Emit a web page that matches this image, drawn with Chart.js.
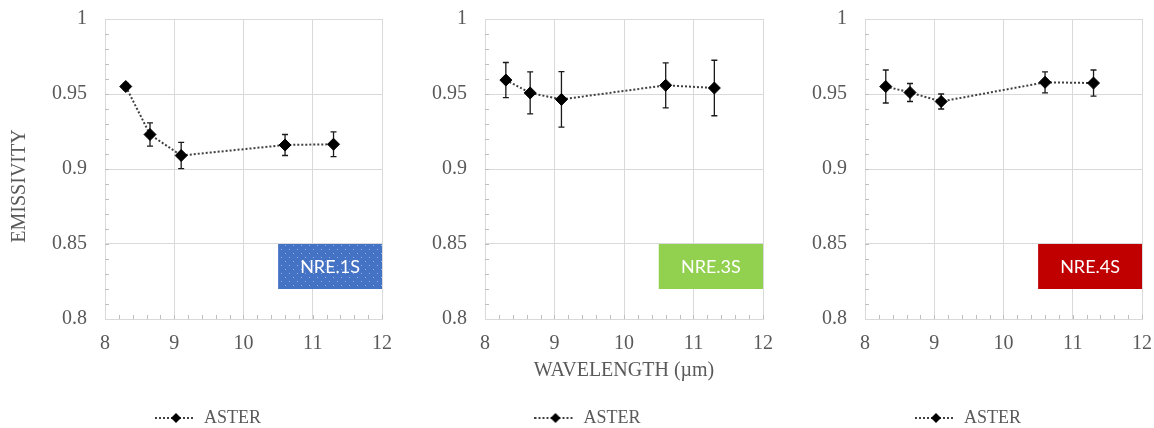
<!DOCTYPE html>
<html>
<head>
<meta charset="utf-8">
<script src="https://cdn.jsdelivr.net/npm/chart.js@4/dist/chart.umd.min.js"></script>
<style>
  body { margin: 0; background: #fff; width: 1154px; height: 428px; position: relative; overflow: hidden; }
  .panel { position: absolute; top: 0; height: 428px; }
</style>
</head>
<body>
<div class="panel" style="left:0;width:400px"><canvas id="c1"></canvas></div>
<div class="panel" style="left:390px;width:390px"><canvas id="c2"></canvas></div>
<div class="panel" style="left:770px;width:384px"><canvas id="c3"></canvas></div>
<script>
// ASTER TIR band centres (µm)
const wavelengths = [8.3, 8.65, 9.1, 10.6, 11.3];

const nre1S = [0.955, 0.923, 0.909, 0.916, 0.9165];
const nre1SErr = [0.002, 0.0077, 0.0087, 0.007, 0.0083];
const nre3S = [0.9593, 0.9507, 0.9464, 0.9558, 0.954];
const nre3SErr = [0.0117, 0.014, 0.0185, 0.015, 0.0185];
const nre4S = [0.955, 0.951, 0.945, 0.9578, 0.9573];
const nre4SErr = [0.011, 0.006, 0.005, 0.007, 0.0087];

const sampleNames = ['NRE.1S', 'NRE.3S', 'NRE.4S'];
const sampleColors = ['#4472c4', '#92d050', '#c00000'];
const labelBoxX = [10.5, 12];
const labelBoxY = [0.82, 0.85];

const serif = "'Liberation Serif', 'Times New Roman', serif";
const grey = '#595959';

function dotPattern(color){
  const c = document.createElement('canvas')
  c.width = 8; c.height = 8
  const g = c.getContext('2d')
  g.fillStyle = color
  g.fillRect(0, 0, 8, 8)
  g.fillStyle = 'rgba(255,255,255,0.45)'
  g.fillRect(1, 1, 1, 1)
  g.fillRect(5, 5, 1, 1)
  return g.createPattern(c, 'repeat')
}

function legendIcon(){
  const c = document.createElement('canvas')
  c.width = 40; c.height = 14
  const g = c.getContext('2d')
  g.strokeStyle = '#404040'
  g.lineWidth = 2
  g.setLineDash([2, 2])
  g.beginPath(); g.moveTo(0, 7); g.lineTo(40, 7); g.stroke()
  g.setLineDash([])
  g.fillStyle = '#000'
  g.beginPath(); g.moveTo(21, 2); g.lineTo(26, 7); g.lineTo(21, 12); g.lineTo(16, 7); g.closePath(); g.fill()
  return c
}

// error bars, minor ticks and the sample tag, all placed through the scales
const extras = {
  id: 'extras',
  afterLayout(chart, args, opts){
    // excel put the legend a bit right of centre
    chart.legend.left += opts.legendShift
    chart.legend.right += opts.legendShift
  },
  beforeDatasetsDraw(chart, args, opts){
    const {ctx, chartArea, scales: {x, y}} = chart
    ctx.save()
    // minor ticks
    ctx.strokeStyle = '#bfbfbf'
    ctx.lineWidth = 1
    ctx.beginPath()
    for(let v = 0.81; v < 1; v += 0.01){
      const py = Math.round(y.getPixelForValue(v)) + 0.5
      ctx.moveTo(chartArea.left, py); ctx.lineTo(chartArea.left + 4, py)
    }
    for(let v = 8.2; v < 12; v += 0.2){
      const px = Math.round(x.getPixelForValue(v)) + 0.5
      ctx.moveTo(px, chartArea.bottom); ctx.lineTo(px, chartArea.bottom - 4)
    }
    ctx.stroke()

    // sample tag
    const bx = x.getPixelForValue(labelBoxX[0]), bx2 = x.getPixelForValue(labelBoxX[1])
    const by = y.getPixelForValue(labelBoxY[1]), by2 = y.getPixelForValue(labelBoxY[0])
    ctx.fillStyle = opts.dotted ? dotPattern(opts.color) : opts.color
    ctx.fillRect(bx, by, bx2 - bx, by2 - by)
    ctx.fillStyle = '#fff'
    ctx.font = "18px Lato, 'Noto Sans', sans-serif"
    ctx.textAlign = 'center'
    ctx.textBaseline = 'middle'
    ctx.fillText(opts.name, (bx + bx2) / 2, (by + by2) / 2 + 1)

    // error bars
    ctx.strokeStyle = '#1a1a1a'
    ctx.lineWidth = 1.3
    ctx.beginPath()
    chart.data.datasets[0].data.forEach(p => {
      const px = x.getPixelForValue(p.x)
      const top = y.getPixelForValue(p.y + p.err), bot = y.getPixelForValue(p.y - p.err)
      ctx.moveTo(px, top); ctx.lineTo(px, bot)
      ctx.moveTo(px - 3, top); ctx.lineTo(px + 3, top)
      ctx.moveTo(px - 3, bot); ctx.lineTo(px + 3, bot)
    })
    ctx.stroke()
    ctx.restore()
  },
  afterDraw(chart, args, opts){
    if(!opts.yTitle) return
    const {ctx, chartArea} = chart
    ctx.save()
    ctx.translate(20, (chartArea.top + chartArea.bottom) / 2 + 17)
    ctx.rotate(-Math.PI / 2)
    ctx.font = '20px ' + serif
    ctx.fillStyle = grey
    ctx.textAlign = 'center'
    ctx.textBaseline = 'middle'
    ctx.fillText(opts.yTitle, 0, 0)
    ctx.restore()
  }
}

const icon = legendIcon()

function makeChart(id, values, errors, idx, yWidth, rightPad, legendShift, yTitle, xTitle){
  return new Chart(id, {
    type: 'line',
    data: {
      datasets: [{
        label: 'ASTER',
        data: wavelengths.map((w, i) => ({x: w, y: values[i], err: errors[i]})),
        borderColor: '#404040',
        borderWidth: 2,
        borderDash: [2, 2],
        pointStyle: 'rectRot',
        pointRadius: 6,
        pointBackgroundColor: '#000',
        pointBorderColor: '#000',
        pointBorderWidth: 1,
        tension: 0
      }]
    },
    options: {
      animation: false,
      responsive: true,
      maintainAspectRatio: false,
      layout: { padding: { top: 19, right: rightPad, left: 0, bottom: -9 } },
      plugins: {
        tooltip: { enabled: false },
        legend: {
          position: 'bottom',
          labels: {
            usePointStyle: true,
            pointStyle: icon,
            pointStyleWidth: 40,
            padding: 26,
            color: grey,
            font: { family: serif, size: 18 }
          }
        },
        extras: { name: sampleNames[idx], color: sampleColors[idx], dotted: idx === 0, yTitle: yTitle, legendShift: legendShift }
      },
      scales: {
        x: {
          type: 'linear',
          min: 8, max: 12,
          afterFit: s => { s.height = 64; s.paddingLeft = 0; s.paddingRight = 0 },
          grid: { color: '#d9d9d9', drawTicks: false },
          border: { color: '#d9d9d9' },
          ticks: { stepSize: 1, padding: 13, color: grey, font: { family: serif, size: 20 } },
          title: { display: !!xTitle, text: xTitle, color: grey, padding: 0, font: { family: serif, size: 20 } }
        },
        y: {
          min: 0.8, max: 1,
          afterFit: s => { s.width = yWidth; s.paddingTop = 0; s.paddingBottom = 0 },
          grid: { color: '#d9d9d9', drawTicks: false },
          border: { color: '#d9d9d9' },
          ticks: {
            stepSize: 0.05, padding: 18, color: grey, font: { family: serif, size: 20 },
            callback: v => String(parseFloat(v.toFixed(2)))
          }
        }
      }
    },
    plugins: [extras]
  })
}

// canvases overlap a little so the "12" labels are not clipped
makeChart('c1', nre1S, nre1SErr, 0, 105, 18, 17, 'EMISSIVITY', '')
makeChart('c2', nre3S, nre3SErr, 1, 95, 17, 11, '', 'WAVELENGTH (µm)')
makeChart('c3', nre4S, nre4SErr, 2, 95, 12, 12, '', '')
</script>
</body>
</html>
